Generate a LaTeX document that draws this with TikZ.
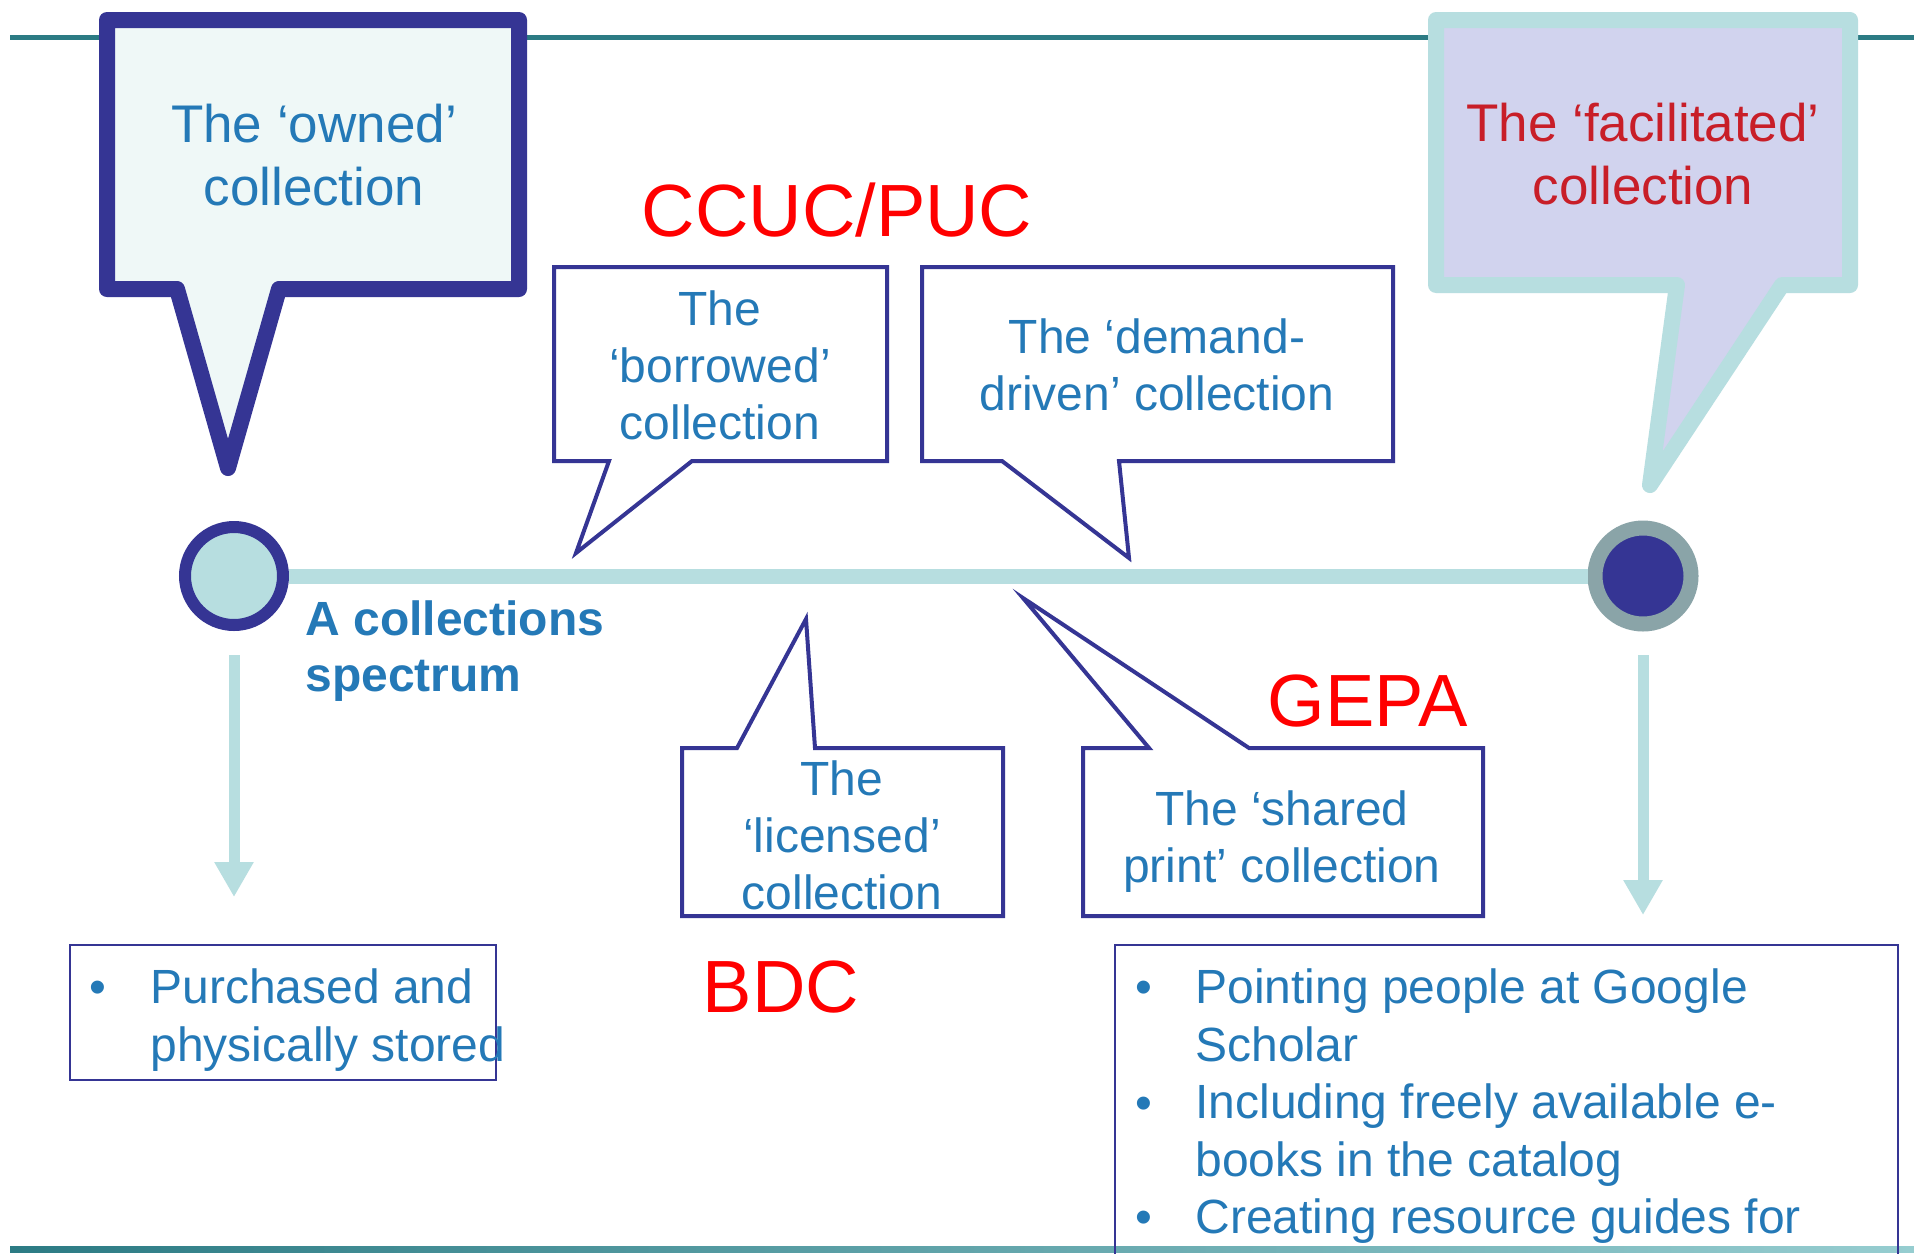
\documentclass[tikz,border=0pt]{standalone}
\usepackage{fontspec}
\setmainfont{Liberation Sans}
\usetikzlibrary{arrows.meta}
\definecolor{navy}{RGB}{53,53,148}
\definecolor{textblue}{RGB}{36,121,183}
\definecolor{facred}{RGB}{200,30,40}
\definecolor{lightcyan}{RGB}{183,222,224}
\definecolor{ownedfill}{RGB}{239,248,247}
\definecolor{lavender}{RGB}{209,211,238}
\definecolor{ringgray}{RGB}{138,164,168}
\definecolor{tealline}{RGB}{44,123,132}
\definecolor{teallight}{RGB}{150,205,208}
\tikzset{
  bigcallout/.style={line width=8pt, line join=round},
  callout/.style={draw=navy, fill=white, line width=2pt, line join=miter},
  bodytxt/.style={text=textblue, inner sep=0pt, anchor=base, align=center, font=\fontsize{24}{28.5}\selectfont},
  bigtxt/.style={inner sep=0pt, anchor=base, align=center, font=\fontsize{26.5}{31.5}\selectfont},
  redlbl/.style={text=red, inner sep=0pt, anchor=base, font=\fontsize{37}{44}\selectfont},
  listtxt/.style={text=textblue, inner sep=0pt, anchor=base west, align=left, font=\fontsize{24}{28.75}\selectfont},
  bullet/.style={text=textblue, inner sep=0pt, anchor=base, font=\fontsize{24}{28.75}\selectfont},
  downarrow/.style={draw=lightcyan, line width=5.5pt, -{Triangle[length=17.5pt,width=18.5pt]}},
}
\begin{document}
\begin{tikzpicture}[x=0.5pt,y=-0.5pt]
\useasboundingbox (0,0) rectangle (1914,1253);
\fill[white] (0,0) rectangle (1914,1253);
% top and bottom rules
\draw[tealline, line width=2.5pt] (10,37) -- (1914,37);
\shade[left color=tealline, right color=teallight] (10,1246) rectangle (1914,1252);

% owned callout
\draw[bigcallout, draw=navy, fill=ownedfill]
  (107,20) -- (519,20) -- (519,289) -- (279,289) -- (228,468) -- (177,289) -- (107,289) -- cycle;
\node[bigtxt, text=textblue] (owned) at (314,205) {The ‘owned’\\collection};

% facilitated callout
\draw[bigcallout, draw=lightcyan, fill=lavender]
  (1436,20) -- (1850,20) -- (1850,285) -- (1782,285) -- (1650,485) -- (1677,285) -- (1436,285) -- cycle;
\node[bigtxt, text=facred] (facil) at (1643,204) {The ‘facilitated’\\collection};

% red labels
\node[redlbl] (ccuc) at (837,236) {CCUC/PUC};
\node[redlbl] (gepa) at (1368,726) {GEPA};
\node[redlbl] (bdc) at (781,1012) {BDC};

% borrowed
\draw[callout] (554,267) -- (887,267) -- (887,461) -- (692,461) -- (576,553) -- (609,461) -- (554,461) -- cycle;
\node[bodytxt] (borrowed) at (720,439) {The\\‘borrowed’\\collection};

% demand-driven
\draw[callout] (922,267) -- (1393,267) -- (1393,461) -- (1119,461) -- (1129,558) -- (1002,461) -- (922,461) -- cycle;
\node[bodytxt] (demand) at (1157,410) {The ‘demand-\\driven’ collection};

% spectrum
\node[circle, draw=navy, fill=lightcyan, line width=6pt, minimum size=49pt, inner sep=0pt] (lc) at (234,576) {};
\node[circle, draw=ringgray, fill=navy, line width=7.5pt, minimum size=48pt, inner sep=0pt] (rc) at (1643,576) {};
\draw[lightcyan, line width=7.5pt] (lc) -- (rc);
\node[text=textblue, inner sep=0pt, anchor=base west, align=left, font=\bfseries\fontsize{24}{28}\selectfont] (spec) at (305,691) {A collections\\spectrum};

% licensed
\draw[callout] (682,748) -- (737,748) -- (806,619) -- (815,748) -- (1003,748) -- (1003,916) -- (682,916) -- cycle;
\node[bodytxt] (licensed) at (842,909) {The\\‘licensed’\\collection};

% shared print
\draw[callout] (1083,748) -- (1149,748) -- (1023,598) -- (1249,748) -- (1483,748) -- (1483,916) -- (1083,916) -- cycle;
\node[bodytxt] (shared) at (1282,882) {The ‘shared\\print’ collection};

% down arrows
\coordinate (la1) at (234,655);
\coordinate (la2) at (234,897);
\coordinate (ra1) at (1643,655);
\coordinate (ra2) at (1643,915);
\draw[downarrow] (la1) -- (la2);
\draw[downarrow] (ra1) -- (ra2);

% left list box
\draw[navy, line width=1pt] (70,945) rectangle (496,1080);
\node[bullet] (lb1) at (98,1003) {•};
\node[listtxt] (lt1) at (150,1061) {Purchased and\\physically stored};

% right list box
\draw[navy, line width=1pt] (1115,1260) -- (1115,945) -- (1898,945) -- (1898,1260);
\node[bullet] (rb1) at (1144,1003) {•};
\node[listtxt] (rt1) at (1195,1061) {Pointing people at Google\\Scholar};
\node[bullet] (rb2) at (1144,1119) {•};
\node[listtxt] (rt2) at (1195,1176) {Including freely available e-\\books in the catalog};
\node[bullet] (rb3) at (1144,1233) {•};
\node[listtxt] (rt3) at (1195,1233) {Creating resource guides for};
\end{tikzpicture}
\end{document}
